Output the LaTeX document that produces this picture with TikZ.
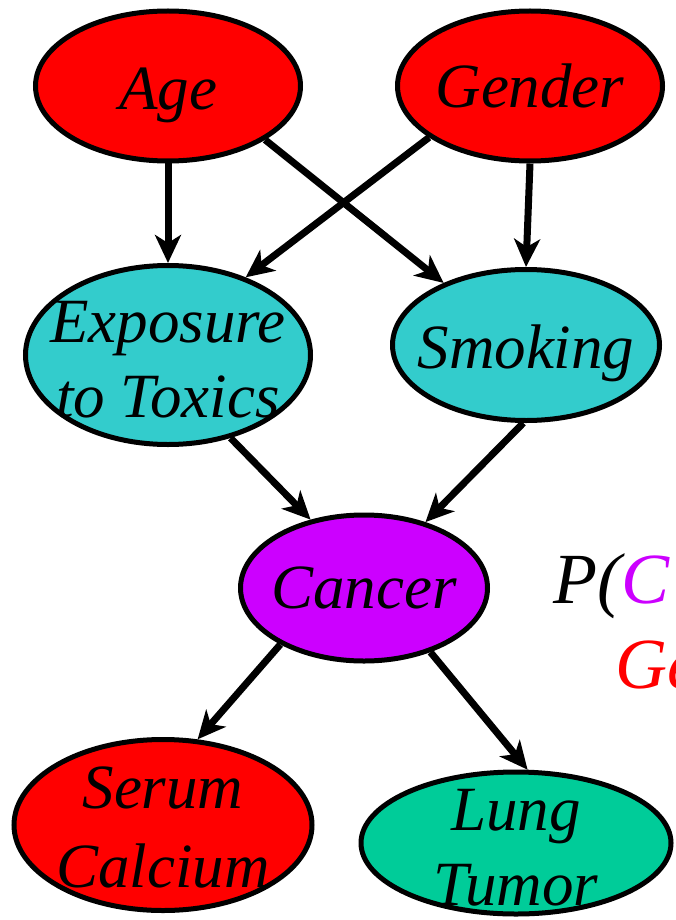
\documentclass[tikz,border=0pt]{standalone}
\usepackage{fontspec}
\setmainfont{Liberation Serif}
\usetikzlibrary{arrows.meta,shapes.geometric}

\definecolor{varred}{HTML}{FF0000}
\definecolor{varcyan}{HTML}{33CCCC}
\definecolor{varpurple}{HTML}{CC00FF}
\definecolor{vargreen}{HTML}{00CC99}

% a text line of no size, centred, its baseline #1 below the node centre;
% the ellipse size then comes only from minimum width/height
\newcommand{\txtline}[2]{\makebox[0pt]{\raisebox{-#1}[0pt][0pt]{#2}}}

\begin{document}
\begin{tikzpicture}[x=1pt,y=-1pt,
  var/.style={ellipse, draw=black, line width=5pt, inner sep=0pt,
    font=\fontsize{63}{79}\selectfont\itshape},
  link/.style={line width=7pt, -{Stealth[length=28pt,width=26pt,inset=8pt]}},
  formula/.style={anchor=base west, inner sep=0pt, font=\fontsize{72}{80}\selectfont\itshape}]
\useasboundingbox (0,0) rectangle (675,920);
\clip (0,0) rectangle (675,920);

% variables
\node[var, fill=varred, minimum width=265pt, minimum height=150pt] (age) at (168,86)
  {\txtline{24pt}{Age}};
\node[var, fill=varred, minimum width=265pt, minimum height=150pt] (gender) at (530,86)
  {\txtline{22pt}{Gender}};
\node[var, fill=varcyan, minimum width=285pt, minimum height=179pt] (exposure) at (168,355)
  {\txtline{-13pt}{Exposure}\txtline{62pt}{to Toxics}};
\node[var, fill=varcyan, minimum width=267pt, minimum height=151pt] (smoking) at (526,345)
  {\txtline{23pt}{Smoking}};
\node[var, fill=varpurple, minimum width=247pt, minimum height=146pt] (cancer) at (364,588)
  {\txtline{20pt}{Cancer}};
\node[var, fill=varred, minimum width=298pt, minimum height=171pt] (serum) at (163,825)
  {\txtline{-17pt}{Serum}\txtline{62pt}{Calcium}};
\node[var, fill=vargreen, minimum width=310pt, minimum height=142pt] (lung) at (516,843)
  {\txtline{-13pt}{Lung}\txtline{62pt}{Tumor}};

% dependencies
\draw[link] (age.south) -- (exposure.north);
\draw[link] (age.-29.5) -- (smoking.143);
\draw[link] (gender.-153.4) -- (exposure.45.4);
\draw[link] (gender.south) -- (smoking.north);
\draw[link] (exposure.-53) -- (cancer.128.7);
\draw[link] (smoking.-92) -- (cancer.47.2);
\draw[link] (cancer.214.5) -- (serum.68.9);
\draw[link] (cancer.-44) -- (lung.81.6);

% conditional probability expression
\node[formula] (probhead) at (553,603) {P(\textcolor{varpurple}{C}};
\node[formula, text=varred] (probgiven) at (615,688) {Ge};
\end{tikzpicture}
\end{document}
